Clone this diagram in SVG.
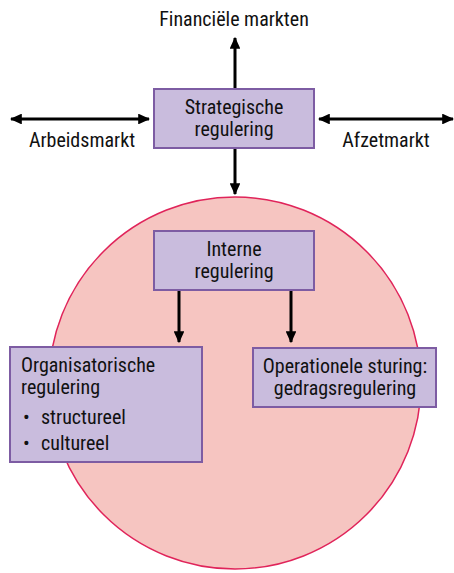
<svg xmlns="http://www.w3.org/2000/svg" width="454" height="573" viewBox="0 0 454 573">
<style>
text{font-family:"Roboto Condensed","Liberation Sans Narrow","Liberation Sans",Arial,sans-serif;font-size:20px;fill:#111}
.c{text-anchor:middle}
.box{fill:#c9bcdd;stroke:#7d5ca3;stroke-width:2}
.ln{stroke:#000;stroke-width:3;fill:none}
</style>
<defs>
<marker id="ah" viewBox="0 0 10 10" refX="9" refY="5" markerWidth="4" markerHeight="3.6" orient="auto-start-reverse" markerUnits="strokeWidth" preserveAspectRatio="none">
<path d="M0,0 L10,5 L0,10 z" fill="#000"/>
</marker>
</defs>
<rect width="454" height="573" fill="#fff"/>
<g id="circle"><circle cx="235" cy="383" r="186" fill="#f6c5c1" stroke="#e0245a" stroke-width="1.5"/></g>
<g id="connectors">
<line class="ln" x1="235" y1="88" x2="235" y2="38" marker-end="url(#ah)"/>
<line class="ln" x1="235" y1="148" x2="235" y2="194" marker-end="url(#ah)"/>
<line class="ln" x1="11" y1="119" x2="149" y2="119" marker-start="url(#ah)" marker-end="url(#ah)"/>
<line class="ln" x1="319" y1="119" x2="453" y2="119" marker-start="url(#ah)" marker-end="url(#ah)"/>
<line class="ln" x1="179" y1="290" x2="179" y2="342" marker-end="url(#ah)"/>
<line class="ln" x1="291" y1="290" x2="291" y2="342" marker-end="url(#ah)"/>
</g>
<g id="labels">
<text class="c" x="234" y="26">Financiële markten</text>
<text class="c" x="82" y="147">Arbeidsmarkt</text>
<text class="c" x="386" y="147">Afzetmarkt</text>
</g>
<g id="strategische">
<rect class="box" x="154" y="89" width="160" height="59"/>
<text class="c" x="234" y="114">Strategische</text>
<text class="c" x="234" y="136">regulering</text>
</g>
<g id="interne">
<rect class="box" x="154" y="231" width="160" height="59"/>
<text class="c" x="234" y="256">Interne</text>
<text class="c" x="234" y="278">regulering</text>
</g>
<g id="organisatorische">
<rect class="box" x="10" y="347" width="192" height="115"/>
<text x="21" y="372">Organisatorische</text>
<text x="21" y="394">regulering</text>
<text x="23" y="424">•</text><text x="41" y="424">structureel</text>
<text x="23" y="450">•</text><text x="41" y="450">cultureel</text>
</g>
<g id="operationele">
<rect class="box" x="253" y="348" width="183" height="59"/>
<text class="c" x="345" y="373">Operationele sturing:</text>
<text class="c" x="345" y="395">gedragsregulering</text>
</g>
</svg>
